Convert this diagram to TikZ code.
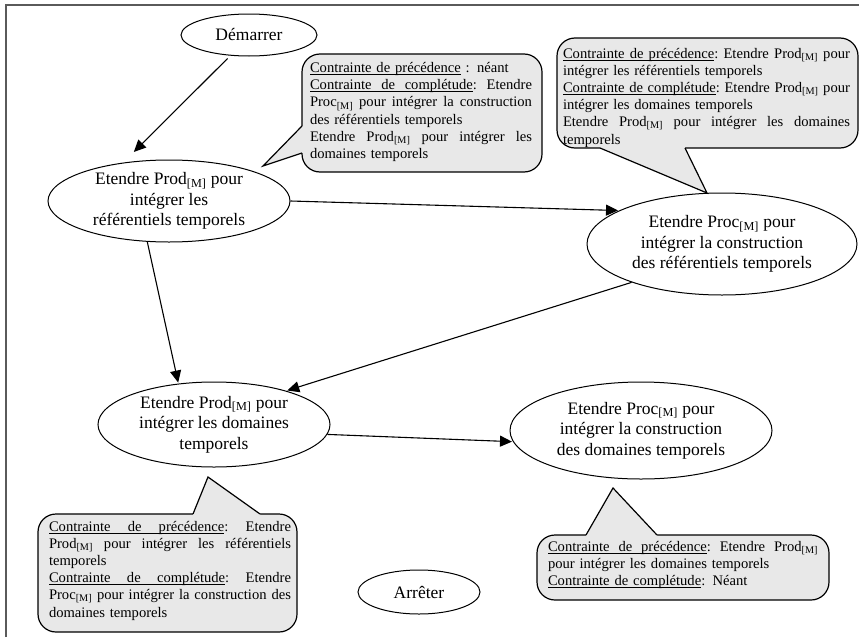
\documentclass[tikz,border=0pt]{standalone}
\usepackage{fontspec}
\setmainfont{Liberation Serif}
\usetikzlibrary{shapes.geometric,arrows.meta}
\definecolor{calloutgray}{RGB}{232,232,232}
\definecolor{framegray}{RGB}{90,90,90}
\newcommand\Msub{\textsubscript{[M]}}
\newcommand\jline[1]{{\spaceskip=\fontdimen2\font plus\fontdimen2\font minus\fontdimen4\font\relax
  \xspaceskip=\spaceskip\makebox[\hsize][s]{#1}}}
\newcommand\ulw[1]{\leavevmode\setbox0\hbox{#1}\rlap{\rule[-2.4pt]{\wd0}{0.7pt}}\box0\relax}
\newcommand\uls{\leavevmode\leaders\hrule height -1.7pt depth 2.4pt\hskip\spaceskip\relax}
\newcommand\CPrec{\ulw{Contrainte}\uls\ulw{de}\uls\ulw{précédence}}
\newcommand\CComp{\ulw{Contrainte}\uls\ulw{de}\uls\ulw{complétude}}
\tikzset{
  oval/.style={ellipse, draw=black, line width=1pt, inner sep=0pt, align=center,
    font=\fontsize{17.5}{20.5}\selectfont},
  arr/.style={-{Triangle[length=12pt,width=11pt]}, line width=1.1pt, black},
  callbox/.style={draw=black, line width=1.2pt, fill=calloutgray, rounded corners=18pt},
  ctext/.style={align=left, inner sep=0pt, font=\fontsize{14.6}{17.2}\selectfont},
}
\begin{document}
\begin{tikzpicture}[x=1pt,y=-1pt]
\useasboundingbox (0,0) rectangle (859,637);
% frame
\draw[framegray, line width=1.5pt] (6,637) -- (6,5) -- (859,5);

% nodes
\node[oval, minimum width=136pt, minimum height=42pt] (dem) at (249,35) {Démarrer};
\node[oval, minimum width=242pt, minimum height=82pt] (A) at (169,201)
  {Etendre Prod\Msub{} pour\\intégrer les\\référentiels temporels};
\node[oval, minimum width=270pt, minimum height=102pt] (B) at (722,244)
  {Etendre Proc\Msub{} pour\\intégrer la construction\\des référentiels temporels};
\node[oval, minimum width=232pt, minimum height=85pt] (C) at (214,424.5)
  {Etendre Prod\Msub{} pour\\intégrer les domaines\\temporels};
\node[oval, minimum width=262pt, minimum height=97pt] (D) at (641,430.5)
  {Etendre Proc\Msub{} pour\\intégrer la construction\\des domaines temporels};
\node[oval, minimum width=122pt, minimum height=44pt] (stop) at (419,592) {Arrêter};

% connectors
\draw[arr, shorten <=4pt, shorten >=15pt] (dem.-132) -- (A.140);
\draw[arr, shorten >=1pt] (A.east) -- (B.162);
\draw[arr, shorten >=1pt] (A.-118) -- (C.131);
\draw[arr, shorten >=1pt] (B.-157) -- (C.25);
\draw[arr, shorten >=1pt] (C.-5) -- (D.185);

% callout 1
\path[callbox] (302,54) rectangle (542,172);
\coordinate (t1) at (263,166);
\fill[calloutgray] (306,126) -- (302,126) -- (t1) -- (302,153) -- (306,153) -- cycle;
\draw[line width=1.2pt] (302,126) -- (t1) -- (302,153);
\node[ctext, text width=222pt] (n1) at (421,112) {%
\CPrec{} : néant\\
\jline{\CComp: Etendre}\\
\jline{Proc\Msub{} pour intégrer la construction}\\
des référentiels temporels\\
\jline{Etendre Prod\Msub{} pour intégrer les}\\
domaines temporels};

% callout 2
\path[callbox] (557,38) rectangle (858,148);
\coordinate (t2) at (707,193);
\fill[calloutgray] (600,144) -- (600,148) -- (t2) -- (685,148) -- (685,144) -- cycle;
\draw[line width=1.2pt] (600,148) -- (t2) -- (685,148);
\node[ctext, text width=287pt] (n2) at (706.5,97.5) {%
\jline{\CPrec: Etendre Prod\Msub{} pour}\\
intégrer les référentiels temporels\\
\jline{\CComp: Etendre Prod\Msub{} pour}\\
intégrer les domaines temporels\\
\jline{Etendre Prod\Msub{} pour intégrer les domaines}\\
temporels};

% callout 3
\path[callbox] (38,514) rectangle (297,632);
\coordinate (t3) at (208,477);
\fill[calloutgray] (193,518) -- (193,514) -- (t3) -- (260,514) -- (260,518) -- cycle;
\draw[line width=1.2pt] (193,514) -- (t3) -- (260,514);
\node[ctext, text width=242pt] (n3) at (170,570.5) {%
\jline{\CPrec: Etendre}\\
\jline{Prod\Msub{} pour intégrer les référentiels}\\
temporels\\
\jline{\CComp: Etendre}\\
\jline{Proc\Msub{} pour intégrer la construction des}\\
domaines temporels};

% callout 4
\path[callbox] (537,535) rectangle (829,600);
\coordinate (t4) at (613,488);
\fill[calloutgray] (586,539) -- (586,535) -- (t4) -- (657,535) -- (657,539) -- cycle;
\draw[line width=1.2pt] (586,535) -- (t4) -- (657,535);
\node[ctext, text width=270pt] (n4) at (683,565) {%
\jline{\CPrec: Etendre Prod\Msub}\\
pour intégrer les domaines temporels\\
\CComp: Néant};
\end{tikzpicture}
\end{document}
